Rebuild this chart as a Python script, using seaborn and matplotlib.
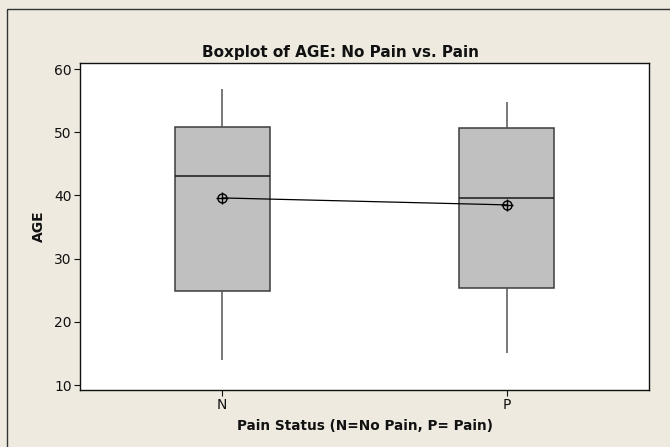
import numpy as np
import pandas as pd
import matplotlib
import matplotlib.pyplot as plt
import seaborn as sns
from matplotlib.patches import Rectangle

matplotlib.use('Agg')

# Five-number summaries (min, Q1, median, Q3, max)
grupos = ['N', 'P']
resumo_N = [14.0, 24.9, 43.0, 50.8, 56.8]
resumo_P = [15.1, 25.3, 39.6, 50.7, 54.8]
medias = [39.6, 38.5]

df = pd.DataFrame({
    'Pain': ['N'] * len(resumo_N) + ['P'] * len(resumo_P),
    'AGE': resumo_N + resumo_P,
})

fundo = '#EEEAE0'
sns.set_style('white')
plt.rcParams['font.family'] = ['DejaVu Sans']
plt.rcParams['text.color'] = '#111111'

fig = plt.figure(figsize=(6.7, 4.47), dpi=100, facecolor=fundo)
ax = fig.add_axes([80 / 670, 57 / 447, 569 / 670, 327 / 447])

sns.boxplot(data=df, x='Pain', y='AGE', order=grupos, whis=(0, 100), width=0.333,
            color='#C0C0C0', saturation=1, linecolor='#3C3C3C', linewidth=1.1,
            showcaps=False, medianprops={'color': '#1A1A1A', 'linewidth': 1.1},
            whiskerprops={'color': '#555555', 'linewidth': 1.1}, ax=ax)

# linha das médias com marcador circular vazado + cruz
sns.pointplot(x=grupos, y=medias, color='black', markers='o', markersize=6.5,
              linewidth=0.9, markerfacecolor='none', markeredgewidth=1.0,
              errorbar=None, ax=ax)
sns.pointplot(x=grupos, y=medias, color='black', markers='+', markersize=8.5,
              linestyles='none', markeredgewidth=1.0, errorbar=None, ax=ax)

ax.set_xlim(-0.5, 1.5)
ax.set_ylim(9.21, 60.95)
ax.set_yticks([10, 20, 30, 40, 50, 60])
ax.tick_params(axis='both', direction='out', length=4, width=0.8, colors='#111111',
               labelsize=10, left=True, bottom=True, pad=2)
for s in ax.spines.values():
    s.set_color('#111111')
    s.set_linewidth(1.0)

ax.set_xlabel('Pain Status (N=No Pain, P= Pain)', fontsize=9.8, fontweight='bold',
              labelpad=5, color='#111111')
ax.set_ylabel('AGE', fontsize=10, fontweight='bold', labelpad=6, color='#111111')
fig.text(341 / 670, 1 - 53 / 447, 'Boxplot of AGE: No Pain vs. Pain', ha='center', va='center',
         fontsize=11, fontweight='bold')

# moldura externa (apenas topo e esquerda visíveis)
fig.patches.append(Rectangle((7 / 670, -0.1), 1.2, 1 - 9 / 447 + 0.1, transform=fig.transFigure,
                             fill=False, edgecolor='#333333', linewidth=1.0))

plt.savefig('out.png', dpi=100, facecolor=fundo)
plt.close()
